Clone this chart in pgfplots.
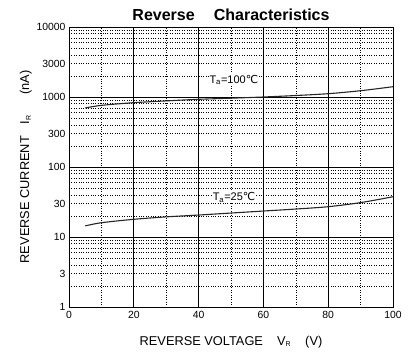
\documentclass[border=0pt]{standalone}
\usepackage{pgfplots}
\pgfplotsset{compat=1.18}
\usepackage{fontspec}
\setmainfont{Liberation Sans}
\newfontfamily\djs{DejaVu Sans}
\begin{document}
\begin{tikzpicture}
\path[use as bounding box] (-69pt,-50pt) rectangle (342pt,307pt);
\begin{axis}[
  at={(0pt,0pt)}, anchor=south west,
  scale only axis, width=324pt, height=280pt,
  ymode=log, log basis y=10,
  xmin=0, xmax=100, ymin=1, ymax=10000,
  xtick={0,20,40,60,80,100},
  minor xtick={10,30,50,70,90},
  ytick={1,10,100,1000,10000},
  minor ytick={2,3,4,5,6,7,8,9,20,30,40,50,60,70,80,90,200,300,400,500,600,700,800,900,2000,3000,4000,5000,6000,7000,8000,9000},
  extra y ticks={3,30,300,3000},
  extra y tick style={grid=none},
  yticklabels={1,10,100,1000,10000},
  extra y tick labels={3,30,300,3000},
  grid=both,
  major grid style={black, line width=0.8pt},
  minor grid style={black, dotted, line width=0.6pt},
  axis line style={black, line width=0.9pt},
  major tick length=0pt, minor tick length=0pt,
  tick style={draw=none},
  /pgf/number format/assume math mode=true,
  ticklabel style={font=\fontsize{10.4}{12}\selectfont},
  xticklabel style={yshift=-1pt},
  title={\bfseries Reverse\hspace{1.2em}Characteristics},
  title style={font=\fontsize{16}{18}\selectfont, at={(0.5,1)}, yshift=-3pt},
  xlabel={REVERSE VOLTAGE\hspace{1.1em}V\textsubscript{\scriptsize R}\hspace{1.1em}(V)},
  ylabel={REVERSE CURRENT\hspace{0.9em}I\textsubscript{\scriptsize R}\hspace{1.6em}(nA)},
  label style={font=\fontsize{12.8}{15}\selectfont},
  xlabel style={yshift=-10pt},
  ylabel style={yshift=-2pt},
]
\addplot[black!85, line width=1.1pt, smooth] coordinates {
  (5,697) (10,760) (20,830) (30,880) (40,927) (50,962) (60,1000) (70,1050) (80,1115) (90,1230) (100,1403)
};
\addplot[black!85, line width=1.1pt, smooth] coordinates {
  (5,14.4) (10,16.0) (20,17.9) (30,19.4) (40,20.6) (50,22.0) (60,23.5) (70,25.1) (80,27.1) (90,31.0) (100,37.6)
};
\node[anchor=west, font=\fontsize{11}{12}\selectfont, fill=white, inner sep=1pt] at (axis cs:43,1750) {T\textsubscript{a}=100{\djs ℃}};
\node[anchor=west, font=\fontsize{11}{12}\selectfont, fill=white, inner sep=1pt] at (axis cs:44,37) {T\textsubscript{a}=25{\djs ℃}};
\end{axis}
\end{tikzpicture}
\end{document}
